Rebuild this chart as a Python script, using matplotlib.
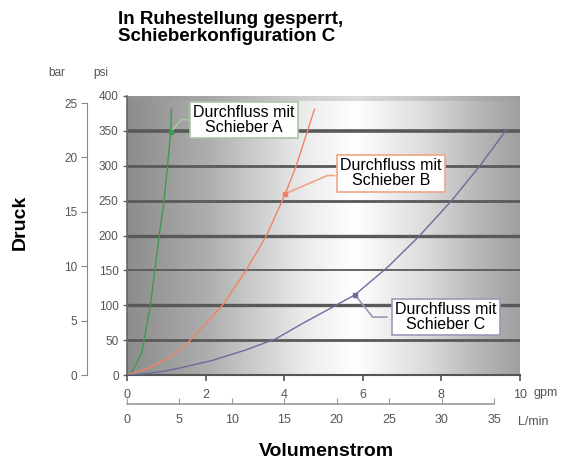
import numpy as np
import matplotlib
matplotlib.use("Agg")
import matplotlib.pyplot as plt
from matplotlib.colors import LinearSegmentedColormap

plt.rcParams['font.family'] = ['Liberation Sans', 'DejaVu Sans']

# ---- data (flow in gpm, pressure in psi) ----
gpm_a = [0.08, 0.375, 0.60, 0.82, 0.94, 1.03, 1.11, 1.13]
psi_a = [0, 31, 102, 200, 250, 299, 348, 381]

gpm_b = [0.0, 0.56, 1.07, 1.4, 1.81, 2.43, 3.03, 3.55, 4.03, 4.30, 4.77]
psi_b = [0, 10, 25, 38, 62, 100, 150, 200, 260, 299, 381]

gpm_c = [0.0, 0.5, 1.0, 1.5, 2.17, 3.03, 3.79, 4.47, 5.32, 5.8, 6.64, 7.45, 8.26, 8.98, 9.66]
psi_c = [0, 2, 6, 12, 21, 36, 52, 74, 100, 115, 155, 200, 250, 300, 352]

labels = ["Durchfluss mit\nSchieber A", "Durchfluss mit\nSchieber B", "Durchfluss mit\nSchieber C"]
colors = ["#3f9a4f", "#f08462", "#6c6c9c"]
box_edges = ["#a9c6a3", "#f0a585", "#9a9ab8"]

gpm_ticks = [0, 2, 4, 6, 8, 10]
psi_ticks = [0, 50, 100, 150, 200, 250, 300, 350, 400]
bar_ticks = [0, 5, 10, 15, 20, 25]
lmin_ticks = [0, 5, 10, 15, 20, 25, 30, 35]

W, H = 563, 462
fig = plt.figure(figsize=(W / 100, H / 100), dpi=100)

def fx(px):
    return px / W

def fy(py):
    return (H - py) / H

L, R, T, B = 127, 520, 96, 375
ax = fig.add_axes([fx(L), fy(B), fx(R - L), fy(T) - fy(B)])
ax.set_xlim(0, 10)
ax.set_ylim(0, 400)

# background gradient
grad = LinearSegmentedColormap.from_list(
    "bg", [(0.0, "#8c8c8c"), (0.2, "#adadad"), (0.45, "#ebebeb"),
           (0.58, "#ffffff"), (0.75, "#dedede"), (0.9, "#b6b6b6"), (1.0, "#a0a0a0")])
g = np.linspace(0, 1, 256).reshape(1, -1)
ax.imshow(g, cmap=grad, aspect="auto", extent=(0, 10, 0, 400), zorder=0)
ax.axhspan(393, 400, color="#9a9a9a", alpha=0.35, zorder=0.5, lw=0)

grid_w = {50: 2.0, 100: 2.4, 150: 1.3, 200: 2.4, 250: 2.0, 300: 2.0, 350: 2.6}
for v, w in grid_w.items():
    ax.axhline(v, color="#595959", lw=w, zorder=1)

ax.plot(gpm_a, psi_a, color=colors[0], lw=1.0, zorder=3)
ax.plot(gpm_b, psi_b, color=colors[1], lw=1.0, zorder=3)
ax.plot(gpm_c, psi_c, color=colors[2], lw=1.0, zorder=3)

# annotations: (marker point index on series, elbow, text centre) in data coords
series = [(gpm_a, psi_a), (gpm_b, psi_b), (gpm_c, psi_c)]
marker_idx = [6, 8, 9]
elbows = [(1.38, 366), (5.10, 286), (6.25, 83)]
text_pos = [(2.98, 366), (6.71, 289), (8.11, 83)]
box_left = [1.66, 5.28, 6.61]
for (xs, ys), mi, el, tp, bl, c, ec, lab in zip(series, marker_idx, elbows, text_pos,
                                                box_left, colors, box_edges, labels):
    px, py = xs[mi], ys[mi]
    ax.plot([px, el[0], bl], [py, el[1], el[1]], color=ec, lw=1.2, zorder=4)
    ax.plot([px], [py], marker="s", ms=3, color=c, zorder=5)
    ax.text(tp[0], tp[1], lab, ha="center", va="center", fontsize=11.5, color="black",
            linespacing=1.0, zorder=6,
            bbox=dict(boxstyle="square,pad=0.2", fc="white", ec=ec, lw=1.2))

# axes styling
for s in ["top", "right"]:
    ax.spines[s].set_visible(False)
ax.spines["left"].set_color("#666666")
ax.spines["bottom"].set_color("#555555")
ax.spines["bottom"].set_linewidth(1.5)
ax.spines["left"].set_linewidth(1.2)
ax.set_xticks(gpm_ticks)
ax.set_xticklabels([str(t) for t in gpm_ticks])
ax.set_yticks(psi_ticks)
ax.set_yticklabels([str(t) for t in psi_ticks])
ax.tick_params(axis="x", direction="out", length=4, width=1.2, colors="#555555",
               labelcolor="#555555", labelsize=9, pad=6)
ax.tick_params(axis="y", direction="out", length=3, width=1.0, colors="#666666",
               labelcolor="#555555", labelsize=8.5, pad=3)

# bar axis
axb = fig.add_axes([fx(87), fy(B), 0.0001, fy(T) - fy(B)])
axb.set_ylim(0, 25 * (B - T) / (B - 103))
axb.set_xticks([])
for s in ["top", "right", "bottom"]:
    axb.spines[s].set_visible(False)
axb.spines["left"].set_bounds(0, 25)
axb.spines["left"].set_color("#888888")
axb.patch.set_visible(False)
axb.set_yticks(bar_ticks)
axb.set_yticklabels([str(t) for t in bar_ticks])
axb.tick_params(axis="y", direction="out", length=4, colors="#888888",
                labelcolor="#555555", labelsize=8.5, pad=3)

# L/min axis
axl = fig.add_axes([fx(127), fy(404), fx(494 - 127), 0.0001])
axl.set_xlim(0, 35)
axl.set_yticks([])
for s in ["top", "right", "left"]:
    axl.spines[s].set_visible(False)
axl.spines["bottom"].set_color("#999999")
axl.spines["bottom"].set_linewidth(1.2)
axl.patch.set_visible(False)
axl.set_xticks(lmin_ticks)
axl.set_xticklabels([str(t) for t in lmin_ticks])
axl.tick_params(axis="x", direction="in", length=4, colors="#999999",
                labelcolor="#555555", labelsize=9, pad=7)

# unit labels
fig.text(fx(57), fy(73), "bar", fontsize=8.5, color="#555555", ha="center", va="center")
fig.text(fx(101), fy(73), "psi", fontsize=8.5, color="#555555", ha="center", va="center")
fig.text(fx(546), fy(393), "gpm", fontsize=9, color="#555555", ha="center", va="center")
fig.text(fx(533), fy(422), "L/min", fontsize=9, color="#555555", ha="center", va="center")

# titles
fig.text(fx(118), fy(28), "In Ruhestellung gesperrt,\nSchieberkonfiguration C",
         fontsize=13.5, fontweight="bold", ha="left", va="center", linespacing=1.05)
fig.text(fx(20), fy(222), "Druck", fontsize=14, fontweight="bold", rotation=90,
         ha="center", va="center")
fig.text(fx(326), fy(451), "Volumenstrom", fontsize=14, fontweight="bold",
         ha="center", va="center")

fig.savefig("out.png", dpi=100)
